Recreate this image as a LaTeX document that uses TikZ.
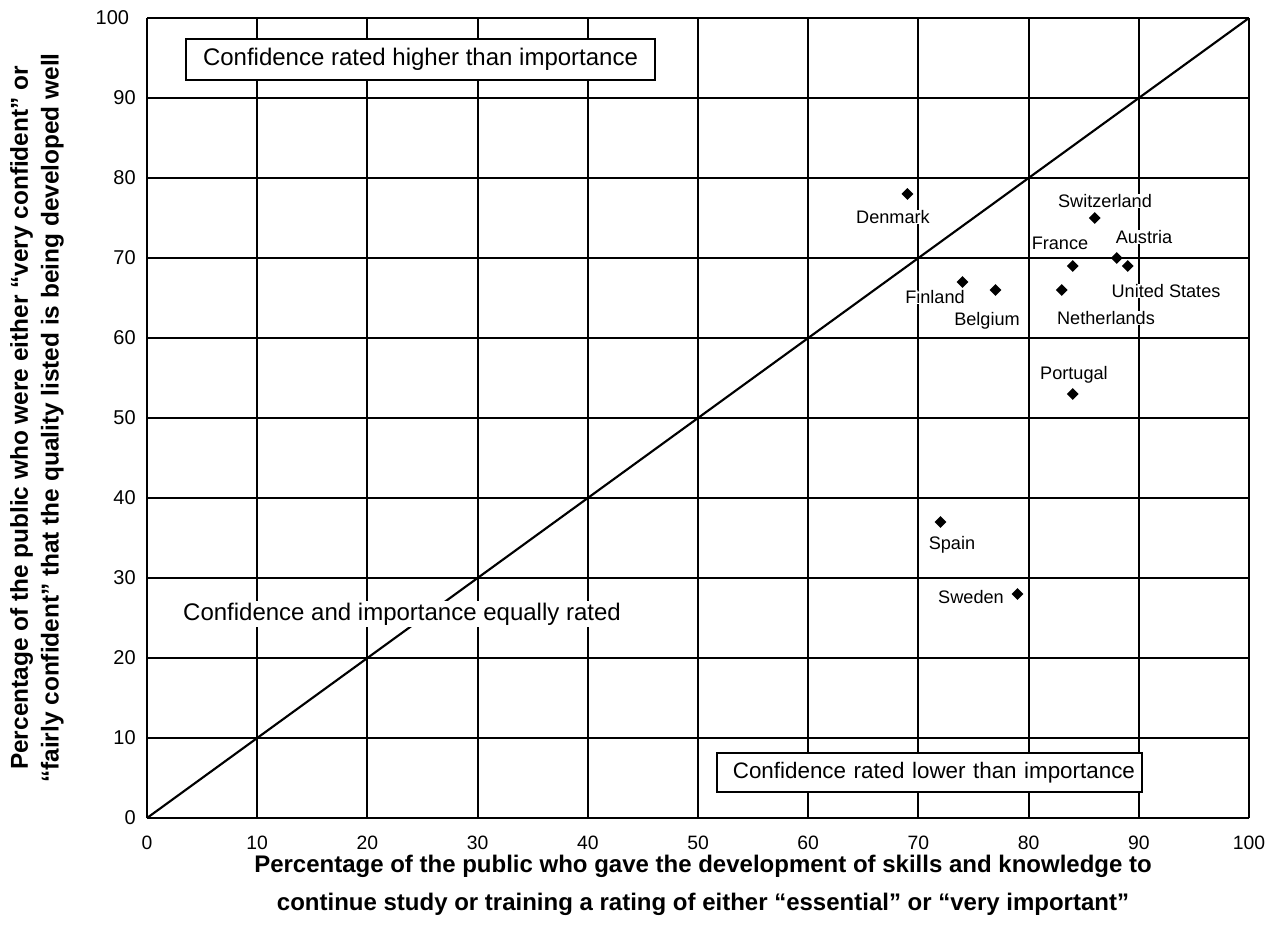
\documentclass[tikz,border=0pt]{standalone}
\usepackage{fontspec}
\setmainfont{Liberation Sans}
\usetikzlibrary{shapes.geometric}
\begin{document}
\begin{tikzpicture}[x=0.75pt,y=-0.75pt,
  gridline/.style={line width=1.6pt},
  datapt/.style={diamond, fill=black, inner sep=0pt, minimum size=9pt},
  country/.style={font=\fontsize{13.6}{16}\selectfont, fill=white, inner sep=0.6pt},
  ticklabel/.style={font=\fontsize{14.5}{16}\selectfont, inner sep=0pt},
  regionbox/.style={draw, line width=1.3pt, fill=white, inner sep=0pt},
  axtitle/.style={font=\bfseries\fontsize{18}{28.5}\selectfont, align=center, inner sep=0pt}]
\useasboundingbox (0,0) rectangle (1278,941);
% plot area in data units (0..100 on both axes)
\begin{scope}[shift={(147,818)}, x=8.265pt, y=6pt]
  \foreach \v in {0,10,...,100} {
    \draw[gridline] (\v,0) -- (\v,100);
    \draw[gridline] (0,\v) -- (100,\v);
  }
  \coordinate (origin) at (0,0);
  \coordinate (corner) at (100,100);
  \draw[gridline] (origin) -- (corner);
  % tick labels
  \foreach \v in {0,10,...,100}
    \node[ticklabel] (xt\v) at (\v,-3.1) {\v};
  \foreach \v in {0,10,...,90}
    \node[ticklabel, anchor=east, font=\fontsize{15}{16}\selectfont] (yt\v) at (-1.0,\v) {\v};
  \node[ticklabel, anchor=east, font=\fontsize{15}{16}\selectfont] (yt100) at (-1.6,100) {100};
  % data points
  \node[datapt] (dk) at (69,78) {};
  \node[datapt] (ch) at (86,75) {};
  \node[datapt] (at) at (88,70) {};
  \node[datapt] (us) at (89,69) {};
  \node[datapt] (fr) at (84,69) {};
  \node[datapt] (nl) at (83,66) {};
  \node[datapt] (fi) at (74,67) {};
  \node[datapt] (be) at (77,66) {};
  \node[datapt] (pt) at (84,53) {};
  \node[datapt] (es) at (72,37) {};
  \node[datapt] (se) at (79,28) {};
\end{scope}
% country names
\node[country] (ldk) at (893,217) {Denmark};
\node[country] (lch) at (1105,201) {Switzerland};
\node[country] (lat) at (1144,237) {Austria};
\node[country] (lfr) at (1060,243) {France};
\node[country] (lus) at (1166,291) {United States};
\node[country] (lnl) at (1106,318) {Netherlands};
\node[country] (lfi) at (935,297) {Finland};
\node[country] (lbe) at (987,321) {Belgium};
\node[country] (lpt) at (1074,375) {Portugal};
\node[country] (les) at (952,545) {Spain};
\node[country] (lse) at (971,597) {Sweden};
% region labels
\node[regionbox, font=\fontsize{18}{20}\selectfont, minimum width=351.75pt, minimum height=30.75pt] (upper) at (420.5,59.5) {Confidence rated higher than importance};
\node[regionbox, font=\fontsize{16.8}{20}\selectfont, text width=308.25pt, align=right, inner xsep=5.25pt, minimum height=29.25pt] (lower) at (929.5,772.5) {Confidence rated lower than importance};
\node[fill=white, inner sep=1pt, font=\fontsize{18}{20}\selectfont] (equal) at (402,614) {Confidence and importance equally rated};
% axis titles
\node[axtitle] (xtitle) at (703,885) {Percentage of the public who gave the development of skills and knowledge to\\continue study or training a rating of either “essential” or “very important”};
\node[axtitle, rotate=90, font=\bfseries\fontsize{18.3}{23}\selectfont] (ytitle) at (37,418) {Percentage of the public who were either “very confident” or\\“fairly confident” that the quality listed is being developed well};
\end{tikzpicture}
\end{document}
